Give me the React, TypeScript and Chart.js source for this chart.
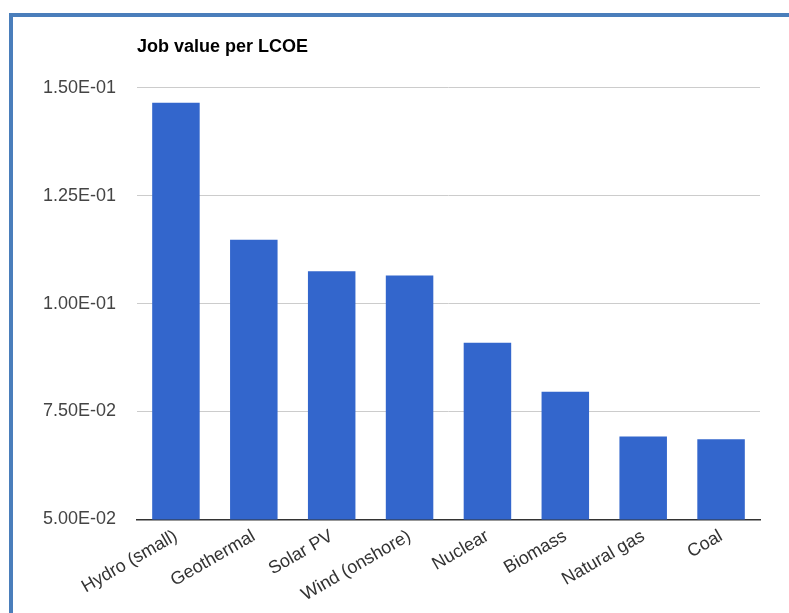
import React, { useEffect, useRef } from "react";
import { Chart, registerables } from "chart.js";

Chart.register(...registerables);

const categories = [
  "Hydro (small)",
  "Geothermal",
  "Solar PV",
  "Wind (onshore)",
  "Nuclear",
  "Biomass",
  "Natural gas",
  "Coal",
];
const jobValuePerLcoe = [0.1465, 0.1148, 0.1075, 0.1065, 0.0909, 0.0796, 0.0692, 0.0686];
const yTickValues = [0.05, 0.075, 0.1, 0.125, 0.15];
const yTickLabels = ["5.00E-02", "7.50E-02", "1.00E-01", "1.25E-01", "1.50E-01"];
const chartTitle = "Job value per LCOE";

export default function App() {
  const canvasRef = useRef<HTMLCanvasElement | null>(null);

  useEffect(() => {
    if (!canvasRef.current) return;
    const font = "Arial, 'Liberation Sans', sans-serif";
    const chart = new Chart(canvasRef.current, {
      type: "bar",
      data: {
        labels: categories,
        datasets: [
          {
            data: jobValuePerLcoe,
            backgroundColor: "#3366CC",
            borderWidth: 0,
            barPercentage: 0.61,
            categoryPercentage: 1,
          },
        ],
      },
      options: {
        animation: false,
        responsive: false,
        devicePixelRatio: 1,
        layout: { padding: { top: 0, right: 29, left: 0, bottom: 0 } },
        plugins: {
          legend: { display: false },
          tooltip: { enabled: false },
          title: {
            display: true,
            text: chartTitle,
            align: "start",
            fullSize: false,
            color: "#000",
            font: { family: font, size: 18, weight: "bold" },
            padding: { top: 36, bottom: 30 },
          },
        },
        scales: {
          x: {
            grid: { display: false, drawTicks: false },
            border: { display: true, color: "#333", width: 1.5 },
            ticks: {
              color: "#333",
              font: { family: font, size: 18 },
              minRotation: 30,
              maxRotation: 30,
              padding: 6,
              autoSkip: false,
            },
            afterFit: (scale: any) => {
              scale.height = 93.5;
            },
          },
          y: {
            min: 0.05,
            max: 0.15,
            grid: { color: "#cccccc", lineWidth: 1, drawTicks: false },
            border: { display: false },
            afterBuildTicks: (scale: any) => {
              scale.ticks = yTickValues.map((v) => ({ value: v }));
            },
            ticks: {
              color: "#444",
              font: { family: font, size: 18 },
              padding: 21,
              callback: (_v: any, i: number) => yTickLabels[i],
            },
            afterFit: (scale: any) => {
              scale.width = 137;
            },
          },
        },
      },
    });
    return () => chart.destroy();
  }, []);

  return (
    <div style={{ position: "fixed", left: 0, top: 0, width: 789, height: 613, background: "#fff" }}>
      <div
        style={{
          position: "absolute",
          left: 9,
          top: 13,
          right: -10,
          bottom: -10,
          borderLeft: "4px solid #4A7EBB",
          borderTop: "4px solid #4A7EBB",
        }}
      />
      <canvas ref={canvasRef} width={789} height={613} style={{ position: "absolute", left: 0, top: 0 }} />
    </div>
  );
}
